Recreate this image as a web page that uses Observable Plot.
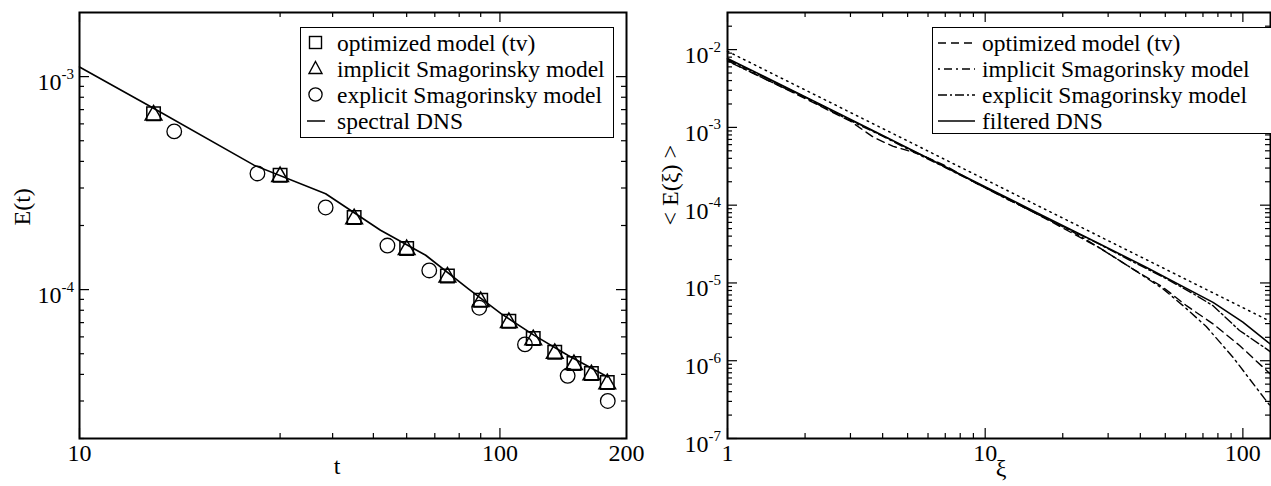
<!DOCTYPE html>
<html><head><meta charset="utf-8">
<script src="https://cdn.jsdelivr.net/npm/d3@7"></script>
<script src="https://cdn.jsdelivr.net/npm/@observablehq/plot@0.6"></script>
<style>
body{margin:0;background:#fff;}
#wrap{position:relative;width:1271px;height:486px;overflow:hidden;font-family:"Liberation Serif","Times New Roman",serif;}
.panel{position:absolute;top:0;}
.legend{position:absolute;background:#fff;border:1.5px solid #000;box-sizing:border-box;font-size:23.5px;line-height:26px;color:#000;z-index:5;}
.row{position:relative;height:26px;white-space:nowrap;}
.row svg{position:absolute;top:0;}
.row span{position:absolute;top:0;}
</style></head>
<body>
<div id="wrap">
  <div id="left" class="panel" style="left:0"></div>
  <div id="right" class="panel" style="left:650px"></div>
  <div id="legL" class="legend" style="left:300px;top:27px;width:314px;height:111px;padding-top:2px"></div>
  <div id="legR" class="legend" style="left:932px;top:27px;width:340px;height:107px;padding-top:2px"></div>
</div>
<script>
// ---------- left panel data: E(t) ----------
const tModel = [15, 30, 45, 60, 75, 90, 105, 120, 135, 150, 165, 180];
const eOptimizedT = [6.70e-4, 3.44e-4, 2.18e-4, 1.56e-4, 1.16e-4, 8.91e-5, 7.10e-5, 5.89e-5, 5.08e-5, 4.50e-5, 4.04e-5, 3.66e-5];
const eImplicitT = [6.60e-4, 3.39e-4, 2.15e-4, 1.54e-4, 1.145e-4, 8.78e-5, 7.00e-5, 5.81e-5, 5.01e-5, 4.44e-5, 3.98e-5, 3.61e-5];
const tExplicit = [16.8, 26.5, 38.5, 54, 67.9, 89.3, 114.7, 144.9, 180.5];
const eExplicitT = [5.53e-4, 3.51e-4, 2.43e-4, 1.61e-4, 1.23e-4, 8.22e-5, 5.53e-5, 3.94e-5, 3.00e-5];
const tDNS = [10, 15, 26, 38.5, 52, 66.6, 84, 100.6, 120.7, 145, 180.5];
const eDNS = [1.11e-3, 7.10e-4, 3.84e-4, 2.82e-4, 1.90e-4, 1.45e-4, 1.01e-4, 7.71e-5, 6.10e-5, 4.92e-5, 3.89e-5];

// ---------- right panel data: <E(xi)> ----------
const xiFiltered = [1, 2.75, 4.98, 9.01, 16.3, 27.1, 42.3, 76.6, 100, 125, 128];
const eFiltered = [7.7e-3, 1.47e-3, 5.47e-4, 2.05e-4, 7.67e-5, 3.32e-5, 1.58e-5, 5.63e-6, 3.13e-6, 1.73e-6, 1.63e-6];
const xiOptimized = [1, 2, 3, 3.7, 4.4, 5.5, 6.9, 9, 16, 27.9, 36.4, 49, 60.4, 76.6, 97.1, 121.4, 128];
const eOptimized = [7.2e-3, 2.35e-3, 1.2e-3, 7.4e-4, 5.7e-4, 4.6e-4, 3.3e-4, 2.0e-4, 7.6e-5, 2.8e-5, 1.6e-5, 8.8e-6, 5.1e-6, 2.98e-6, 1.57e-6, 7.9e-7, 6.7e-7];
const xiImplicit = [1, 2, 3, 4, 5.5, 7, 9, 12, 16, 22, 27.9, 36.4, 49, 58.6, 72.1, 91.5, 121.4, 128];
const eImplicit = [7.1e-3, 2.4e-3, 1.22e-3, 7.7e-4, 4.5e-4, 3.05e-4, 2.0e-4, 1.22e-4, 7.7e-5, 4.5e-5, 2.8e-5, 1.6e-5, 8.4e-6, 5.1e-6, 2.75e-6, 1.11e-6, 3.26e-7, 2.6e-7];
const xiExplicit = [1, 2, 3, 4, 5, 6.5, 9, 12, 16, 22, 28, 36, 50, 65, 76.6, 97, 123, 128];
const eExplicit = [7.5e-3, 2.45e-3, 1.25e-3, 7.8e-4, 5.4e-4, 3.5e-4, 2.02e-4, 1.25e-4, 7.6e-5, 4.6e-5, 3.1e-5, 2.0e-5, 1.15e-5, 7.1e-6, 5.1e-6, 2.45e-6, 1.43e-6, 1.30e-6];
const xiSlope = [1, 128];
const eSlope = [9.5e-3, 3.2e-6];

// ---------- ticks & labels ----------
const leftXLabels = [10, 100, 200];
const leftXMajor = [10, 100];
const leftXMinor = [30, 40, 50, 60, 70, 80, 90];
const leftYMajor = [1e-4, 1e-3];
const leftYMinor = [2e-5,3e-5,4e-5,5e-5,6e-5,7e-5,8e-5,9e-5,2e-4,3e-4,4e-4,5e-4,6e-4,7e-4,8e-4,9e-4];
const rightXLabels = [1, 10, 100];
const rightXMajor = [1, 10, 100];
const rightXMinor = [2,3,4,5,6,7,8,9,20,30,40,50,60,70,80,90];
const rightYMajor = [1e-7, 1e-6, 1e-5, 1e-4, 1e-3, 1e-2];
const rightYMinor = [];
for (const d of [1e-7,1e-6,1e-5,1e-4,1e-3]) for (let k = 2; k <= 9; k++) rightYMinor.push(+(k*d).toPrecision(3));
rightYMinor.push(2e-2);

const legendLeft = ["optimized model (tv)", "implicit Smagorinsky model", "explicit Smagorinsky model", "spectral DNS"];
const legendRight = ["optimized model (tv)", "implicit Smagorinsky model", "explicit Smagorinsky model", "filtered DNS"];

const zip = (xs, ys) => xs.map((x, i) => ({x, y: ys[i]}));
const FONT = "Liberation Serif";
const dashOpt = "8,5", dashImp = "2,4,8,4", dashExp = "9,3,2,3", dashDot = "1.5,4.5";

function frameTicks(W, H, m, xMajor, xMinor, yMajor, yMinor) {
  const fw = W - m.left - m.right, fh = H - m.top - m.bottom;
  const s = {stroke: "#000", strokeWidth: 1.2};
  return [
    Plot.tickY(yMajor, {y: d => d, insetRight: fw - 10, ...s}),
    Plot.tickY(yMajor, {y: d => d, insetLeft: fw - 10, ...s}),
    Plot.tickY(yMinor, {y: d => d, insetRight: fw - 5, ...s}),
    Plot.tickY(yMinor, {y: d => d, insetLeft: fw - 5, ...s}),
    Plot.tickX(xMajor, {x: d => d, insetTop: fh - 10, ...s}),
    Plot.tickX(xMajor, {x: d => d, insetBottom: fh - 10, ...s}),
    Plot.tickX(xMinor, {x: d => d, insetTop: fh - 5, ...s}),
    Plot.tickX(xMinor, {x: d => d, insetBottom: fh - 5, ...s}),
    Plot.frame({stroke: "#000", strokeWidth: 2})
  ];
}
function tickLabels(xLabels, yLabels, dxY) {
  return [
    Plot.text(yLabels, {y: d => d, frameAnchor: "left", text: () => "10", textAnchor: "end", dx: dxY, dy: 5.8, fontSize: 24, fill: "#000"}),
    Plot.text(yLabels, {y: d => d, frameAnchor: "left", text: d => String(Math.round(Math.log10(d))), textAnchor: "start", dx: dxY, dy: -2.8, fontSize: 15, fill: "#000"}),
    Plot.text(xLabels, {x: d => d, frameAnchor: "bottom", text: d => String(d), lineAnchor: "top", dy: 5, fontSize: 24, fill: "#000"})
  ];
}

// ---------- left chart ----------
{
  const W = 650, H = 486, m = {top: 12, right: 24, bottom: 48, left: 79};
  const chart = Plot.plot({
    width: W, height: H, marginTop: m.top, marginRight: m.right, marginBottom: m.bottom, marginLeft: m.left,
    style: {fontFamily: FONT, background: "transparent", overflow: "visible"},
    x: {type: "log", domain: [10, 200], axis: null},
    y: {type: "log", domain: [2e-5, 2e-3], axis: null},
    marks: [
      Plot.line(zip(tDNS, eDNS), {x: "x", y: "y", stroke: "#000", strokeWidth: 1.6}),
      Plot.dot(zip(tModel, eOptimizedT), {x: "x", y: "y", symbol: "square", r: 7.6, stroke: "#000", strokeWidth: 1.5, fill: "none"}),
      Plot.dot(zip(tModel, eImplicitT), {x: "x", y: "y", symbol: "triangle", r: 6.2, stroke: "#000", strokeWidth: 1.5, fill: "none"}),
      Plot.dot(zip(tExplicit, eExplicitT), {x: "x", y: "y", symbol: "circle", r: 7.3, stroke: "#000", strokeWidth: 1.3, fill: "none"}),
      ...frameTicks(W, H, m, leftXMajor, leftXMinor, leftYMajor, leftYMinor),
      ...tickLabels(leftXLabels, leftYMajor, -18),
      Plot.text(["E(t)"], {text: d => d, frameAnchor: "left", rotate: -90, dx: -57, fontSize: 24, fill: "#000"}),
      Plot.text(["t"], {text: d => d, frameAnchor: "bottom", dx: -16, dy: 35, fontSize: 24, fill: "#000"})
    ]
  });
  document.getElementById("left").appendChild(chart);
}

// ---------- right chart ----------
{
  const W = 621, H = 486, m = {top: 12, right: 1, bottom: 48, left: 77};
  const chart = Plot.plot({
    width: W, height: H, marginTop: m.top, marginRight: m.right, marginBottom: m.bottom, marginLeft: m.left,
    style: {fontFamily: FONT, background: "transparent", overflow: "visible"},
    x: {type: "log", domain: [1, 128], axis: null},
    y: {type: "log", domain: [1e-7, 3e-2], axis: null},
    marks: [
      Plot.line(zip(xiSlope, eSlope), {x: "x", y: "y", stroke: "#000", strokeWidth: 1.5, strokeDasharray: dashDot}),
      Plot.line(zip(xiOptimized, eOptimized), {x: "x", y: "y", stroke: "#000", strokeWidth: 1.4, strokeDasharray: dashOpt}),
      Plot.line(zip(xiImplicit, eImplicit), {x: "x", y: "y", stroke: "#000", strokeWidth: 1.4, strokeDasharray: dashImp}),
      Plot.line(zip(xiExplicit, eExplicit), {x: "x", y: "y", stroke: "#000", strokeWidth: 1.4, strokeDasharray: dashExp}),
      Plot.line(zip(xiFiltered, eFiltered), {x: "x", y: "y", stroke: "#000", strokeWidth: 1.6}),
      ...frameTicks(W, H, m, rightXMajor, rightXMinor, rightYMajor, rightYMinor),
      ...tickLabels(rightXLabels, rightYMajor, -19),
      Plot.text(["< E(ξ) >"], {text: d => d, frameAnchor: "left", rotate: -90, dx: -57, fontSize: 24, fill: "#000"}),
      Plot.text(["ξ"], {text: d => d, frameAnchor: "bottom", dx: 2, dy: 37, fontSize: 24, fill: "#000"})
    ]
  });
  document.getElementById("right").appendChild(chart);
}

// ---------- legends ----------
const NS = "http://www.w3.org/2000/svg";
function addRow(box, label, swatchSvg, swLeft, swWidth, textLeft) {
  const row = document.createElement("div");
  row.className = "row";
  const sv = document.createElementNS(NS, "svg");
  sv.setAttribute("width", swWidth); sv.setAttribute("height", 26);
  sv.style.left = swLeft + "px";
  sv.innerHTML = swatchSvg;
  const sp = document.createElement("span");
  sp.style.left = textLeft + "px";
  sp.textContent = label;
  row.appendChild(sv); row.appendChild(sp);
  box.appendChild(row);
}
{
  const box = document.getElementById("legL");
  const sym = [
    '<rect x="3.5" y="6.5" width="12" height="12" fill="none" stroke="#000" stroke-width="1.4"/>',
    '<path d="M9.5,5.5 L16,17.5 L3,17.5 Z" fill="none" stroke="#000" stroke-width="1.4"/>',
    '<circle cx="9.5" cy="12.5" r="6.6" fill="none" stroke="#000" stroke-width="1.3"/>',
    '<line x1="1" x2="19" y1="13" y2="13" stroke="#000" stroke-width="1.5"/>'
  ];
  legendLeft.forEach((t, i) => addRow(box, t, sym[i], 5, 20, 36));
}
{
  const box = document.getElementById("legR");
  const dashes = [dashOpt, dashImp, dashExp, null];
  legendRight.forEach((t, i) => {
    const da = dashes[i] ? ` stroke-dasharray="${dashes[i]}"` : "";
    addRow(box, t, `<line x1="0" x2="37" y1="13" y2="13" stroke="#000" stroke-width="1.6"${da}/>`, 5, 38, 49);
  });
}
</script>
</body></html>
